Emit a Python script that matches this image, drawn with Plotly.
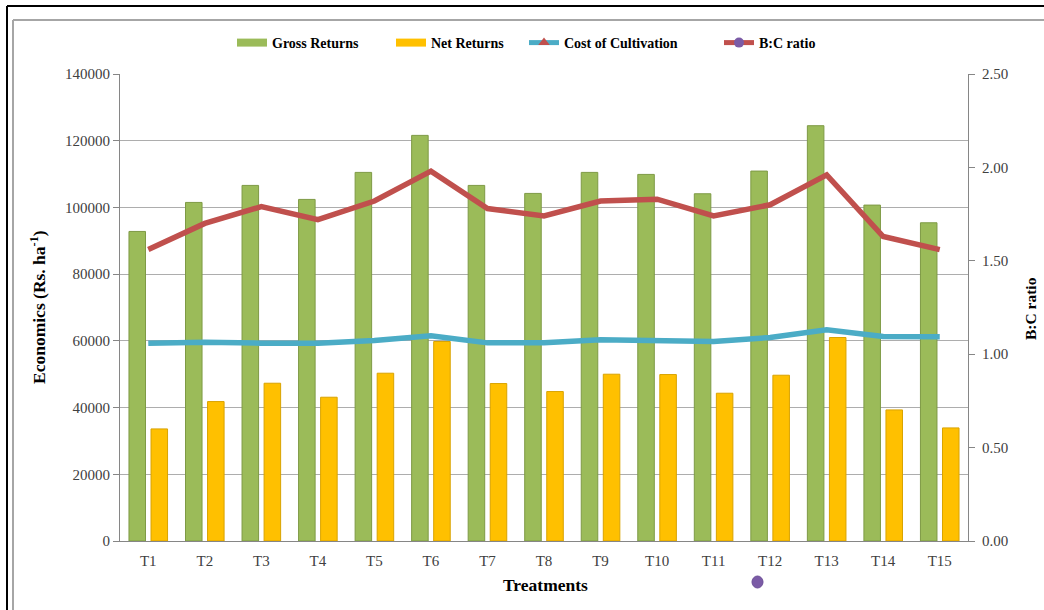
import plotly.graph_objects as go

treatments = ["T1", "T2", "T3", "T4", "T5", "T6", "T7", "T8", "T9", "T10", "T11", "T12", "T13", "T14", "T15"]
gross_returns = [92800, 101500, 106600, 102400, 110500, 121600, 106600, 104200, 110500, 109900, 104100, 110900, 124500, 100700, 95400]
net_returns = [33600, 41800, 47300, 43100, 50300, 59800, 47200, 44800, 50000, 49900, 44300, 49700, 61000, 39300, 33900]
cost_cultivation = [59300, 59600, 59300, 59300, 60100, 61500, 59400, 59400, 60300, 59900, 59800, 61000, 63300, 61300, 61200]
bc_ratio = [1.56, 1.70, 1.79, 1.72, 1.82, 1.98, 1.78, 1.74, 1.82, 1.83, 1.74, 1.80, 1.96, 1.63, 1.56]

W, H = 1044, 610
L, R, T, B = 120, 968, 74, 541  # plot area in pixels


def px(x):
    return (x - L) / (R - L)


def py(y):
    return (B - y) / (B - T)


SERIF = "Liberation Serif, Times New Roman, serif"
GREEN, YELLOW, BLUE, RED, PURPLE = "#9BBB59", "#FFC000", "#4BACC6", "#C0504D", "#7B5BA6"

fig = go.Figure()
fig.add_trace(go.Bar(x=treatments, y=gross_returns, name="Gross Returns", showlegend=False,
                     marker=dict(color=GREEN, line=dict(color="#7E9A45", width=1))))
fig.add_trace(go.Bar(x=treatments, y=net_returns, name="Net Returns", showlegend=False,
                     marker=dict(color=YELLOW, line=dict(color="#D9A300", width=1))))
fig.add_trace(go.Scatter(x=treatments, y=cost_cultivation, mode="lines", showlegend=False,
                         line=dict(color=BLUE, width=5.5)))
fig.add_trace(go.Scatter(x=treatments, y=bc_ratio, mode="lines", showlegend=False, yaxis="y2",
                         line=dict(color=RED, width=5.5)))
# legend entries
fig.add_trace(go.Scatter(x=[None], y=[None], mode="lines", name="Gross Returns", legend="legend",
                         line=dict(color=GREEN, width=8)))
fig.add_trace(go.Scatter(x=[None], y=[None], mode="lines", name="Net Returns", legend="legend2",
                         line=dict(color=YELLOW, width=8)))
fig.add_trace(go.Scatter(x=[None], y=[None], mode="lines+markers", name="Cost of Cultivation",
                         legend="legend3", line=dict(color=BLUE, width=5),
                         marker=dict(symbol="triangle-up", color=RED, size=10)))
fig.add_trace(go.Scatter(x=[None], y=[None], mode="lines+markers", name="B:C ratio",
                         legend="legend4", line=dict(color=RED, width=5),
                         marker=dict(symbol="circle", color=PURPLE, size=10)))

shapes = [
    # outer frame
    dict(type="line", xref="paper", yref="paper", x0=px(7), x1=px(W + 5), y0=py(6), y1=py(6),
         line=dict(color="black", width=2)),
    dict(type="line", xref="paper", yref="paper", x0=px(7), x1=px(7), y0=py(6), y1=py(H + 5),
         line=dict(color="black", width=2)),
    dict(type="line", xref="paper", yref="paper", x0=px(13), x1=px(W + 5), y0=py(20), y1=py(20),
         line=dict(color="#A6A6A6", width=2)),
    dict(type="line", xref="paper", yref="paper", x0=px(13), x1=px(13), y0=py(20), y1=py(H + 5),
         line=dict(color="#A6A6A6", width=2)),
    # stray marker artifact
    dict(type="circle", xref="paper", yref="paper", x0=px(752), x1=px(763), y0=py(588), y1=py(576),
         fillcolor=PURPLE, line=dict(color="#6A4C96", width=1)),
]

annotations = [
    dict(text="<b>Economics (Rs. ha<sup>-1</sup>)</b>", xref="paper", yref="paper",
         x=px(38), y=py(307), textangle=-90, showarrow=False,
         font=dict(family=SERIF, size=17.5, color="black"), xanchor="center", yanchor="middle"),
    dict(text="<b>B:C ratio</b>", xref="paper", yref="paper",
         x=px(1030), y=py(309), textangle=-90, showarrow=False,
         font=dict(family=SERIF, size=15.5, color="black"), xanchor="center", yanchor="middle"),
    dict(text="<b>Treatments</b>", xref="paper", yref="paper",
         x=px(545), y=py(585), showarrow=False,
         font=dict(family=SERIF, size=17.5, color="black"), xanchor="center", yanchor="middle"),
]


def legend_at(x_start):
    return dict(orientation="h", x=px(x_start - 6), xanchor="left", y=py(43), yanchor="middle",
                font=dict(family=SERIF, size=14, color="black", weight="bold"),
                itemwidth=30, bgcolor="rgba(0,0,0,0)")


fig.update_layout(
    width=W, height=H,
    margin=dict(l=L, r=W - R, t=T, b=H - B, autoexpand=False),
    paper_bgcolor="white", plot_bgcolor="white",
    barmode="group", bargap=0.22, bargroupgap=0.25,
    font=dict(family=SERIF, size=15, color="#404040"),
    legend=legend_at(238),
    legend2=legend_at(397),
    legend3=legend_at(530),
    legend4=legend_at(725),
    xaxis=dict(showgrid=False, showline=True, linecolor="#868686", linewidth=1,
               ticks="", ticklabelstandoff=6, tickfont=dict(size=15, color="#404040")),
    yaxis=dict(range=[0, 140000], dtick=20000, showgrid=True, gridcolor="#ADADAD", gridwidth=1,
               showline=True, linecolor="#868686", ticks="outside", ticklen=6, tickcolor="#868686",
               tickformat="d", zeroline=False, tickfont=dict(size=15, color="#404040")),
    yaxis2=dict(range=[0, 2.5], dtick=0.5, overlaying="y", side="right", showgrid=False,
                showline=True, linecolor="#868686", ticks="outside", ticklen=6, tickcolor="#868686",
                ticklabelstandoff=4,
                tickformat=".2f", zeroline=False, tickfont=dict(size=15, color="#404040")),
    shapes=shapes,
    annotations=annotations,
)

fig.write_html("out.html")
